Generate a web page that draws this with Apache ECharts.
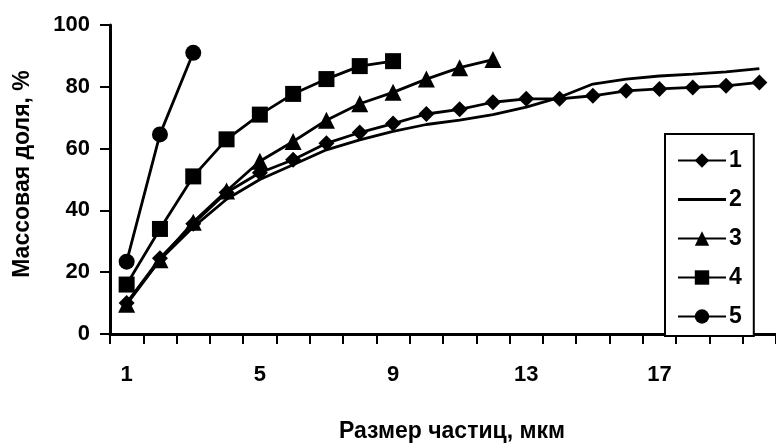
<!DOCTYPE html>
<html>
<head>
<meta charset="utf-8">
<script src="https://cdn.jsdelivr.net/npm/echarts@6/dist/echarts.min.js"></script>
<style>
html,body{margin:0;padding:0;background:#fff;}
#main{width:776px;height:448px;}
</style>
</head>
<body>
<div id="main"></div>
<script>
var categories = ['1','2','3','4','5','6','7','8','9','10','11','12','13','14','15','16','17','18','19','20'];
var seriesNames = ['1','2','3','4','5'];
var s1 = [10, 24.5, 35.7, 45.8, 52.2, 56.4, 61.7, 65.2, 68.1, 71.2, 72.7, 75, 76.1, 76.1, 77.1, 78.7, 79.3, 79.8, 80.3, 81.4];
var s2 = [10, 24, 34.6, 43.6, 50, 54.8, 59.6, 62.8, 65.6, 67.8, 69.2, 71, 73.4, 76.6, 80.9, 82.5, 83.5, 84.1, 84.8, 85.9];
var s3 = [9.6, 24, 36.2, 46.3, 55.9, 62.3, 69.2, 74.5, 78.2, 82.5, 86.2, 88.8];
var s4 = [16, 34, 51, 63, 71, 77.7, 82.5, 86.7, 88.3];
var s5 = [23.4, 64.6, 91];
var yTicks = [0, 20, 40, 60, 80, 100];

var FONT = '"Liberation Sans", Arial, sans-serif';
var chart = echarts.init(document.getElementById('main'), null, {renderer:'canvas'});

function lineSeries(name, data, symbol, size) {
  return {
    name: name, type: 'line', data: data,
    symbol: symbol, symbolSize: size, showSymbol: symbol !== 'none',
    smooth: false, animation: false,
    lineStyle: {color: '#000', width: 2.8},
    itemStyle: {color: '#000', borderColor: '#000', borderWidth: 0},
    emphasis: {disabled: true}
  };
}

var legendData = seriesNames.map(function (n) {
  if (n === '2') {
    return {name: n, icon: 'path://M0,0L48,0L48,2.8L0,2.8Z', itemStyle: {color: '#000'}};
  }
  return {name: n};
});

var option = {
  backgroundColor: '#fff',
  animation: false,
  grid: {left: 110, top: 25, width: 670, height: 314, containLabel: false},
  legend: {
    orient: 'vertical',
    left: 665, top: 134,
    data: legendData,
    itemWidth: 48, itemHeight: 18, itemGap: 16,
    padding: [15, 12, 8, 12],
    borderColor: '#000', borderWidth: 2,
    backgroundColor: '#fff',
    textStyle: {fontFamily: FONT, fontWeight: 'bold', fontSize: 23, color: '#000', padding: [0,0,0,-2]},
    selectedMode: false
  },
  xAxis: {
    type: 'category',
    data: categories,
    boundaryGap: true,
    name: 'Размер частиц, мкм',
    nameLocation: 'middle',
    nameGap: 86,
    nameTextStyle: {fontFamily: FONT, fontWeight: 'bold', fontSize: 23, color: '#000', padding: [0,0,0,18]},
    axisLine: {lineStyle: {color: '#000', width: 3}},
    axisTick: {show: true, alignWithLabel: false, interval: 0, length: 10, lineStyle: {color: '#000', width: 2}},
    axisLabel: {interval: 3, margin: 30, fontFamily: FONT, fontWeight: 'bold', fontSize: 22, color: '#000'},
    splitLine: {show: false}
  },
  yAxis: {
    type: 'value',
    min: yTicks[0], max: yTicks[yTicks.length-1], interval: 20,
    name: 'Массовая доля, %',
    nameLocation: 'middle',
    nameGap: 76,
    nameRotate: 90,
    nameTextStyle: {fontFamily: FONT, fontWeight: 'bold', fontSize: 23, color: '#000', padding: [0,0,0,11]},
    axisLine: {show: true, lineStyle: {color: '#000', width: 3}},
    axisTick: {show: true, length: 10, lineStyle: {color: '#000', width: 2}},
    axisLabel: {margin: 20, fontFamily: FONT, fontWeight: 'bold', fontSize: 22, color: '#000', padding: [6,0,0,0]},
    splitLine: {show: false}
  },
  series: [
    lineSeries('1', s1, 'diamond', 16),
    lineSeries('2', s2, 'none', 0),
    lineSeries('3', s3, 'triangle', 17),
    lineSeries('4', s4, 'rect', 16),
    lineSeries('5', s5, 'circle', 16)
  ]
};
chart.setOption(option);
</script>
</body>
</html>
